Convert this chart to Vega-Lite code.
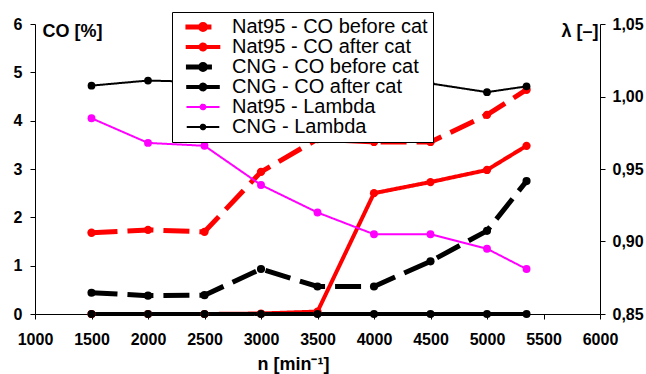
{
  "$schema": "https://vega.github.io/schema/vega-lite/v6.json",
  "width": 565,
  "height": 290,
  "autosize": {"type": "none"},
  "padding": {"left": 35, "top": 24, "right": 46, "bottom": 60},
  "background": "white",
  "config": {
    "view": {"stroke": null},
    "font": "Liberation Sans",
    "locale": {"number": {"decimal": ",", "thousands": ".", "grouping": [3], "currency": ["", ""]}},
    "axis": {
      "grid": false, "domainColor": "black", "tickColor": "black", "labelColor": "black", "titleColor": "black",
      "labelFont": "Liberation Sans", "titleFont": "Liberation Sans", "labelFontWeight": "bold", "labelFontSize": 16,
      "titleFontSize": 18, "titleFontWeight": "bold", "tickSize": 5, "domainWidth": 1, "tickWidth": 1,
      "labelFlush": false, "labelOverlap": false
    },
    "legend": {
      "orient": "none", "legendX": 137, "legendY": -12,
      "labelFont": "Liberation Sans", "labelFontSize": 20, "labelColor": "black", "labelLimit": 400,
      "strokeColor": "black", "fillColor": "white", "padding": 5, "rowPadding": -4,
      "symbolSize": 100, "symbolType": "M-4.2,0L4.2,0M0.6,0A0.6,0.6,0,1,1,-0.6,0A0.6,0.6,0,1,1,0.6,0",
      "symbolOffset": 16, "labelOffset": 19
    }
  },
  "data": {
    "values": [
      {"n": 1500, "series": "Nat95 - CO before cat", "v": 1.68},
      {"n": 2000, "series": "Nat95 - CO before cat", "v": 1.74},
      {"n": 2500, "series": "Nat95 - CO before cat", "v": 1.70},
      {"n": 3000, "series": "Nat95 - CO before cat", "v": 2.94},
      {"n": 3500, "series": "Nat95 - CO before cat", "v": 3.62},
      {"n": 4000, "series": "Nat95 - CO before cat", "v": 3.56},
      {"n": 4500, "series": "Nat95 - CO before cat", "v": 3.56},
      {"n": 5000, "series": "Nat95 - CO before cat", "v": 4.12},
      {"n": 5350, "series": "Nat95 - CO before cat", "v": 4.64},
      {"n": 1500, "series": "Nat95 - CO after cat", "v": 0.0},
      {"n": 2000, "series": "Nat95 - CO after cat", "v": 0.0},
      {"n": 2500, "series": "Nat95 - CO after cat", "v": 0.0},
      {"n": 3000, "series": "Nat95 - CO after cat", "v": 0.01},
      {"n": 3500, "series": "Nat95 - CO after cat", "v": 0.05},
      {"n": 4000, "series": "Nat95 - CO after cat", "v": 2.50},
      {"n": 4500, "series": "Nat95 - CO after cat", "v": 2.73},
      {"n": 5000, "series": "Nat95 - CO after cat", "v": 2.98},
      {"n": 5350, "series": "Nat95 - CO after cat", "v": 3.48},
      {"n": 1500, "series": "CNG - CO before cat", "v": 0.44},
      {"n": 2000, "series": "CNG - CO before cat", "v": 0.38},
      {"n": 2500, "series": "CNG - CO before cat", "v": 0.39},
      {"n": 3000, "series": "CNG - CO before cat", "v": 0.93},
      {"n": 3500, "series": "CNG - CO before cat", "v": 0.57},
      {"n": 4000, "series": "CNG - CO before cat", "v": 0.57},
      {"n": 4500, "series": "CNG - CO before cat", "v": 1.09},
      {"n": 5000, "series": "CNG - CO before cat", "v": 1.72},
      {"n": 5350, "series": "CNG - CO before cat", "v": 2.75},
      {"n": 1500, "series": "CNG - CO after cat", "v": 0.0},
      {"n": 2000, "series": "CNG - CO after cat", "v": 0.0},
      {"n": 2500, "series": "CNG - CO after cat", "v": 0.0},
      {"n": 3000, "series": "CNG - CO after cat", "v": 0.0},
      {"n": 3500, "series": "CNG - CO after cat", "v": 0.0},
      {"n": 4000, "series": "CNG - CO after cat", "v": 0.0},
      {"n": 4500, "series": "CNG - CO after cat", "v": 0.0},
      {"n": 5000, "series": "CNG - CO after cat", "v": 0.0},
      {"n": 5350, "series": "CNG - CO after cat", "v": 0.0},
      {"n": 1500, "series": "Nat95 - Lambda", "v": 0.985},
      {"n": 2000, "series": "Nat95 - Lambda", "v": 0.968},
      {"n": 2500, "series": "Nat95 - Lambda", "v": 0.966},
      {"n": 3000, "series": "Nat95 - Lambda", "v": 0.939},
      {"n": 3500, "series": "Nat95 - Lambda", "v": 0.920},
      {"n": 4000, "series": "Nat95 - Lambda", "v": 0.905},
      {"n": 4500, "series": "Nat95 - Lambda", "v": 0.905},
      {"n": 5000, "series": "Nat95 - Lambda", "v": 0.895},
      {"n": 5350, "series": "Nat95 - Lambda", "v": 0.881},
      {"n": 1500, "series": "CNG - Lambda", "v": 1.0075},
      {"n": 2000, "series": "CNG - Lambda", "v": 1.011},
      {"n": 2500, "series": "CNG - Lambda", "v": 1.010},
      {"n": 3000, "series": "CNG - Lambda", "v": 1.010},
      {"n": 3500, "series": "CNG - Lambda", "v": 1.011},
      {"n": 4000, "series": "CNG - Lambda", "v": 1.010},
      {"n": 4500, "series": "CNG - Lambda", "v": 1.009},
      {"n": 5000, "series": "CNG - Lambda", "v": 1.003},
      {"n": 5350, "series": "CNG - Lambda", "v": 1.007}
    ]
  },
  "encoding": {
    "x": {
      "field": "n", "type": "quantitative",
      "scale": {"domain": [1000, 6000], "nice": false, "zero": false},
      "axis": {"values": [1000, 1500, 2000, 2500, 3000, 3500, 4000, 4500, 5000, 5500, 6000], "format": "d", "title": "n [min⁻¹]", "titleX": 222, "titleY": 55, "titleAlign": "left", "titleAnchor": "start", "titleBaseline": "alphabetic", "labelPadding": 12}
    },
    "color": {
      "field": "series", "type": "nominal", "title": null,
      "scale": {
        "domain": ["Nat95 - CO before cat", "Nat95 - CO after cat", "CNG - CO before cat", "CNG - CO after cat", "Nat95 - Lambda", "CNG - Lambda"],
        "range": ["#ff0000", "#ff0000", "#000000", "#000000", "#ff00ff", "#000000"]
      },
      "legend": {"encode": {"symbols": {"update": {"fill": {"scale": "color", "field": "value"}, "strokeJoin": {"value": "round"}, "strokeCap": {"value": "butt"}}}}}
    },
    "strokeDash": {"field": "series", "type": "nominal", "title": null, "scale": {"domain": ["Nat95 - CO before cat", "Nat95 - CO after cat", "CNG - CO before cat", "CNG - CO after cat", "Nat95 - Lambda", "CNG - Lambda"], "range": [[26, 10], [1, 0], [26, 10], [1, 0], [1, 0], [1, 0]]}},
    "strokeWidth": {"field": "series", "type": "ordinal", "title": null, "scale": {"type": "ordinal", "domain": ["Nat95 - CO before cat", "Nat95 - CO after cat", "CNG - CO before cat", "CNG - CO after cat", "Nat95 - Lambda", "CNG - Lambda"], "range": [5, 4, 5, 4, 2, 2]}}
  },
  "layer": [
    {
      "transform": [{"filter": "indexof(datum.series, 'Lambda') < 0"}],
      "encoding": {
        "y": {
          "field": "v", "type": "quantitative",
          "scale": {"domain": [0, 6], "nice": false},
          "axis": {"values": [0, 1, 2, 3, 4, 5, 6], "format": "d", "title": "CO [%]", "titleAngle": 0, "titleX": 7, "titleY": 7, "titleAlign": "left", "titleBaseline": "middle", "labelPadding": 8}
        }
      },
      "layer": [
        {"mark": {"type": "line"}},
        {
          "mark": {"type": "point", "filled": true, "opacity": 1, "strokeWidth": 0},
          "encoding": {
            "strokeDash": {"value": [1, 0]},
            "strokeWidth": {"value": 0},
            "size": {"field": "series", "type": "nominal", "legend": null, "scale": {"domain": ["Nat95 - CO before cat", "Nat95 - CO after cat", "CNG - CO before cat", "CNG - CO after cat", "Nat95 - Lambda", "CNG - Lambda"], "range": [70, 60, 70, 60, 30, 25]}}
          }
        }
      ]
    },
    {
      "transform": [{"filter": "indexof(datum.series, 'Lambda') >= 0"}],
      "encoding": {
        "y": {
          "field": "v", "type": "quantitative",
          "scale": {"domain": [0.85, 1.05], "nice": false, "zero": false},
          "axis": {"orient": "right", "values": [0.85, 0.9, 0.95, 1.0, 1.05], "format": ".2f", "title": "λ [–]", "titleAngle": 0, "titleX": -2, "titleY": 7, "titleAlign": "right", "titleBaseline": "middle", "labelPadding": 7}
        }
      },
      "layer": [
        {"mark": {"type": "line"}},
        {
          "mark": {"type": "point", "filled": true, "opacity": 1, "strokeWidth": 0},
          "encoding": {
            "strokeDash": {"value": [1, 0]},
            "strokeWidth": {"value": 0},
            "size": {"field": "series", "type": "nominal", "legend": null, "scale": {"domain": ["Nat95 - CO before cat", "Nat95 - CO after cat", "CNG - CO before cat", "CNG - CO after cat", "Nat95 - Lambda", "CNG - Lambda"], "range": [70, 60, 70, 60, 30, 25]}}
          }
        }
      ]
    }
  ],
  "resolve": {"scale": {"y": "independent"}}
}
